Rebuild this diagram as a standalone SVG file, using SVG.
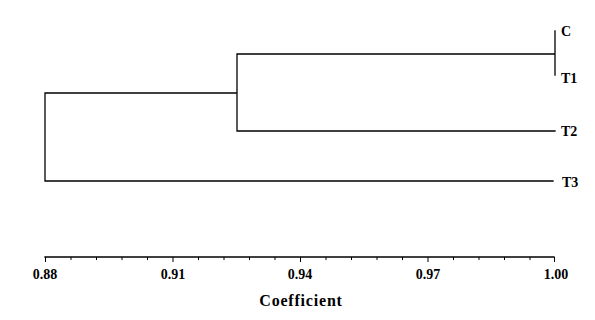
<svg xmlns="http://www.w3.org/2000/svg" width="595" height="320" viewBox="0 0 595 320">
<style>
.ln{stroke:#000;stroke-width:1.3;fill:none;stroke-linecap:square}
.tk{stroke:#000;stroke-width:1;fill:none}
.lab{font-family:"Liberation Serif",serif;font-weight:bold;font-size:14px;fill:#000}
.num{font-family:"Liberation Serif",serif;font-weight:bold;font-size:14px;fill:#000;text-anchor:middle}
.ttl{font-family:"Liberation Serif",serif;font-weight:bold;font-size:16px;fill:#000;text-anchor:middle;letter-spacing:0.8px}
</style>
<rect width="595" height="320" fill="#fff"/>
<g id="connectors">
<path class="ln" d="M555,31 V75 M555,54 H237 M237,55 V131 M237,131 H555 M237,93 H45 M45,93 V181 M45,181 H553"/>
</g>
<g id="node-C"><text class="lab" x="561" y="36">C</text></g>
<g id="node-T1"><text class="lab" x="561" y="83">T1</text></g>
<g id="node-T2"><text class="lab" x="561" y="136">T2</text></g>
<g id="node-T3"><text class="lab" x="562" y="187">T3</text></g>
<g id="axis">
<path class="ln" d="M45,257 H554"/>
<path class="tk" d="M45.5,257v5 M71,257v3 M96.5,257v3 M122,257v3 M147.5,257v3 M173,257v5 M198.5,257v3 M224,257v3 M249.5,257v3 M275,257v3 M300.5,257v5 M326,257v3 M351.5,257v3 M377,257v3 M402.5,257v3 M428,257v5 M453.5,257v3 M479,257v3 M504.5,257v3 M530,257v3 M554.5,257v5"/>
<text class="num" x="45" y="279">0.88</text>
<text class="num" x="173" y="279">0.91</text>
<text class="num" x="300" y="279">0.94</text>
<text class="num" x="428" y="279">0.97</text>
<text class="num" x="556" y="279">1.00</text>
<text class="ttl" x="301" y="306">Coefficient</text>
</g>
</svg>
